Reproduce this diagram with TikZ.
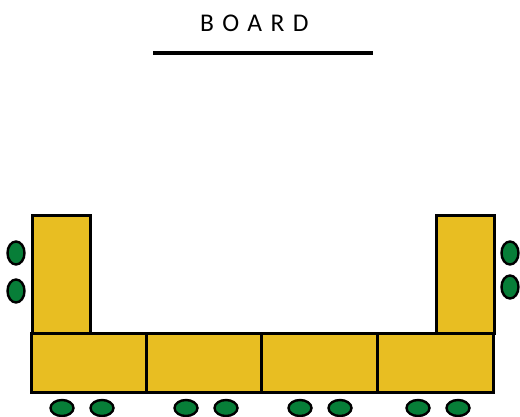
\documentclass[tikz,border=0pt]{standalone}
\usepackage{fontspec}
\setmainfont{Carlito}
\definecolor{desk}{HTML}{E8BE22}
\definecolor{seat}{HTML}{077E38}
\begin{document}
\begin{tikzpicture}[x=1pt,y=-1pt,
  deskbox/.style={draw=black,fill=desk,line width=3pt},
  seatshape/.style={draw=black,fill=seat,line width=2.4pt}]
\useasboundingbox (0,0) rectangle (520,417);
\node[anchor=base west,inner sep=0pt,font=\fontsize{25.5}{30}\selectfont\addfontfeatures{LetterSpace=33}] (board) at (200,32) {BOARD};
\draw[line width=4pt] (153,53) coordinate (bl) -- (373,53) coordinate (br);
% side desks
\draw[deskbox] (32,216) rectangle (90,333);
\draw[deskbox] (436,216) rectangle (494,333);
% front row
\draw[deskbox] (31,333) rectangle (146,392);
\draw[deskbox] (146,333) rectangle (261,392);
\draw[deskbox] (261,333) rectangle (377,392);
\draw[deskbox] (377,333) rectangle (493,392);
% bottom seats
\foreach \x in {62,102,186,226,300,340,418,458}
  \draw[seatshape] (\x,408) ellipse [x radius=11.5,y radius=8];
% side seats
\draw[seatshape] (16,253) ellipse [x radius=8.5,y radius=11.5];
\draw[seatshape] (16,291) ellipse [x radius=8.5,y radius=11.5];
\draw[seatshape] (510,253) ellipse [x radius=8.5,y radius=11.5];
\draw[seatshape] (510,287) ellipse [x radius=8.5,y radius=11.5];
\end{tikzpicture}
\end{document}
